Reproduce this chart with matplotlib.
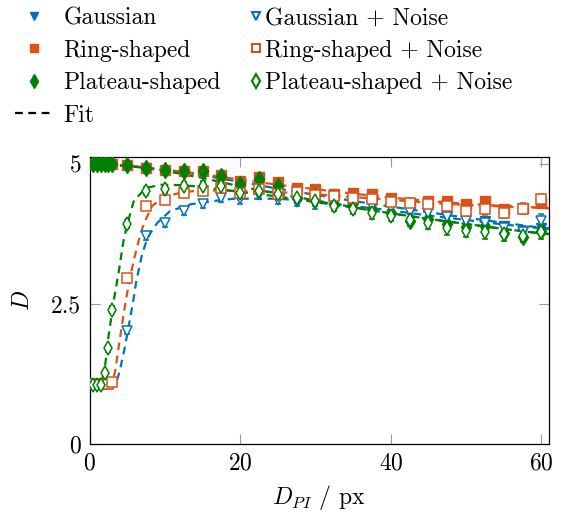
import numpy as np
import matplotlib
matplotlib.use('Agg')
import matplotlib.pyplot as plt
from matplotlib.lines import Line2D

plt.rcParams['font.family'] = 'serif'
plt.rcParams['font.serif'] = ['cmr10']
plt.rcParams['mathtext.fontset'] = 'cm'
plt.rcParams['axes.formatter.use_mathtext'] = True
plt.rcParams['font.size'] = 17

c_blue = '#0072BD'
c_orange = '#D95319'
c_green = '#008000'

# pupil diameter samples (px)
x = [0.5, 1, 1.5, 2, 2.5, 3, 5, 7.5, 10, 12.5, 15, 17.5, 20, 22.5, 25, 27.5,
     30, 32.5, 35, 37.5, 40, 42.5, 45, 47.5, 50, 52.5, 55, 57.5, 60]

gauss = [5, 5, 5, 5, 5, 5, 4.97, 4.92, 4.88, 4.85, 4.80, 4.72, 4.62, 4.62, 4.55,
         4.45, 4.42, 4.37, 4.34, 4.28, 4.25, 4.17, 4.16, 4.07, 4.01, 3.98, 3.89,
         3.80, 3.85]
ring = [5, 5, 5, 5, 5, 5, 4.98, 4.93, 4.89, 4.875, 4.875, 4.80, 4.70, 4.76, 4.67,
        4.57, 4.55, 4.46, 4.49, 4.47, 4.40, 4.31, 4.34, 4.34, 4.28, 4.34, 4.19,
        4.22, 4.31]
plateau = [5, 5, 5, 5, 5, 5, 4.98, 4.93, 4.89, 4.875, 4.875, 4.79, 4.64, 4.73,
           4.61, 4.40, 4.43, 4.28, 4.31, 4.19, 4.13, 3.98, 4.01, 3.92, 3.87, 3.89,
           3.77, 3.69, 3.80]

gauss_noise = [1.07, 1.07, 1.07, 1.07, 1.07, 1.08, 2.02, 3.71, 3.95, 4.16, 4.28,
               4.40, 4.37, 4.45, 4.36, 4.33, 4.28, 4.33, 4.30, 4.25, 4.22, 4.15,
               4.12, 4.05, 3.98, 3.95, 3.85, 3.78, 3.98]
ring_noise = [1.07, 1.07, 1.07, 1.07, 1.07, 1.10, 2.97, 4.25, 4.36, 4.49, 4.52,
              4.58, 4.49, 4.55, 4.46, 4.50, 4.45, 4.42, 4.40, 4.38, 4.33, 4.30,
              4.28, 4.25, 4.16, 4.19, 4.13, 4.20, 4.37]
plateau_noise = [1.05, 1.05, 1.05, 1.27, 1.71, 2.40, 3.93, 4.52, 4.55, 4.61,
                 4.61, 4.61, 4.49, 4.52, 4.46, 4.40, 4.34, 4.25, 4.20, 4.12, 4.08,
                 4.00, 3.95, 3.85, 3.80, 3.78, 3.75, 3.72, 3.78]

gauss_noise_err = [0.03, 0.03, 0.03, 0.03, 0.03, 0.03, 0.06, 0.06, 0.07, 0.07,
                   0.07, 0.07, 0.08, 0.08, 0.08, 0.08, 0.08, 0.09, 0.09, 0.09,
                   0.09, 0.10, 0.10, 0.10, 0.10, 0.11, 0.11, 0.11, 0.12]
ring_noise_err = [0.03, 0.03, 0.03, 0.03, 0.03, 0.03, 0.07, 0.07, 0.07, 0.07,
                  0.07, 0.07, 0.08, 0.08, 0.08, 0.08, 0.08, 0.08, 0.08, 0.09,
                  0.09, 0.09, 0.09, 0.09, 0.10, 0.10, 0.10, 0.10, 0.10]
plateau_noise_err = [0.03, 0.03, 0.03, 0.05, 0.06, 0.06, 0.07, 0.07, 0.07, 0.07,
                     0.08, 0.08, 0.08, 0.08, 0.08, 0.09, 0.09, 0.09, 0.10, 0.10,
                     0.10, 0.10, 0.11, 0.11, 0.11, 0.12, 0.12, 0.12, 0.12]

# fitted curves
fit_x = [0.5, 5, 10, 15, 20, 25, 30, 35, 40, 45, 50, 55, 60, 61]
gauss_fit = [5.0, 4.97, 4.9, 4.8, 4.68, 4.56, 4.45, 4.34, 4.24, 4.14, 4.04, 3.95, 3.86, 3.85]
ring_fit = [5.0, 4.97, 4.9, 4.82, 4.72, 4.63, 4.55, 4.47, 4.40, 4.34, 4.29, 4.25, 4.22, 4.21]
plateau_fit = [5.0, 4.97, 4.88, 4.75, 4.6, 4.47, 4.35, 4.23, 4.12, 4.02, 3.93, 3.84, 3.76, 3.75]

gauss_noise_fit_x = [0.5, 3.5, 4, 4.65, 5.2, 5.8, 6.2, 7, 7.5, 8, 9, 10.7, 13.4,
                     16.5, 19.1, 25, 30, 35, 40, 45, 50, 55, 60, 61]
gauss_noise_fit = [1.05, 1.07, 1.3, 1.7, 2.1, 2.55, 2.9, 3.4, 3.6, 3.75, 3.95,
                   4.16, 4.28, 4.34, 4.38, 4.38, 4.33, 4.25, 4.17, 4.08, 4.0,
                   3.92, 3.85, 3.84]
ring_noise_fit_x = [0.5, 3, 3.4, 4, 4.5, 5, 5.5, 6, 6.5, 7, 7.5, 8.3, 10, 12.5,
                    15, 20, 25, 30, 35, 40, 45, 50, 55, 60, 61]
ring_noise_fit = [1.05, 1.07, 1.3, 1.85, 2.3, 2.7, 3.05, 3.35, 3.62, 3.85, 4.02,
                  4.25, 4.42, 4.5, 4.53, 4.52, 4.5, 4.46, 4.41, 4.36, 4.31, 4.27,
                  4.24, 4.22, 4.21]
plateau_noise_fit_x = [0.5, 1.5, 1.65, 2.1, 2.5, 3.2, 3.9, 4.5, 5, 5.9, 7.5, 9.4,
                       12.5, 15, 20, 25, 30, 35, 40, 45, 50, 55, 60, 61]
plateau_noise_fit = [1.05, 1.07, 1.12, 1.43, 1.9, 2.55, 3.09, 3.62, 3.92, 4.35,
                     4.57, 4.63, 4.62, 4.59, 4.5, 4.42, 4.32, 4.22, 4.12, 4.02,
                     3.93, 3.84, 3.76, 3.75]

fig = plt.figure(figsize=(5.79, 5.14), dpi=100)
ax = fig.add_axes([0.1546, 0.1362, 0.7936, 0.5578])

dash = (0, (3.5, 2.5))
fit_kw = dict(ls=dash, lw=1.6, zorder=2)
ax.plot(fit_x, gauss_fit, color=c_blue, **fit_kw)
ax.plot(gauss_noise_fit_x, gauss_noise_fit, color=c_blue, **fit_kw)
ax.plot(fit_x, ring_fit, color=c_orange, **fit_kw)
ax.plot(ring_noise_fit_x, ring_noise_fit, color=c_orange, **fit_kw)
ax.plot(fit_x, plateau_fit, color=c_green, **fit_kw)
ax.plot(plateau_noise_fit_x, plateau_noise_fit, color=c_green, **fit_kw)

err_kw = dict(mfc='white', mew=1.1, capsize=2.5, elinewidth=1, zorder=3)
ax.plot(x, gauss, 'v', color=c_blue, ms=7, ls='none', zorder=3)
ax.errorbar(x, gauss_noise, yerr=gauss_noise_err, fmt='v', color=c_blue, ms=6.5,
            **err_kw)
ax.plot(x, ring, 's', color=c_orange, ms=7.5, ls='none', zorder=3)
ax.errorbar(x, ring_noise, yerr=ring_noise_err, fmt='s', color=c_orange, ms=6.5,
            **err_kw)
ax.plot(x, plateau, 'd', color=c_green, ms=8.5, ls='none', zorder=3)
ax.errorbar(x, plateau_noise, yerr=plateau_noise_err, fmt='d', color=c_green,
            ms=7.5, **err_kw)

ax.set_xlim(0, 61)
ax.set_ylim(0, 5.12)
ax.set_xticks([0, 20, 40, 60])
ax.set_yticks([0, 2.5, 5])
ax.set_yticklabels(['0', '2.5', '5'])
ax.tick_params(direction='in', length=7, width=0.8, color='#999999',
               top=True, right=True, pad=6)
for s in ax.spines.values():
    s.set_linewidth(0.9)
ax.set_xlabel(r'$D_{PI}$ / px', labelpad=6)
ax.set_ylabel(r'$D$', labelpad=12)

h1 = [Line2D([], [], marker='v', color=c_blue, ls='none', ms=6),
      Line2D([], [], marker='s', color=c_orange, ls='none', ms=5.5),
      Line2D([], [], marker='d', color=c_green, ls='none', ms=7)]
h1.append(Line2D([], [], color='black', ls=dash, lw=1.6))
l1 = ['Gaussian', 'Ring-shaped', 'Plateau-shaped', 'Fit']
h2 = [Line2D([], [], marker='v', color=c_blue, mfc='white', mew=1.5, ls='none', ms=6),
      Line2D([], [], marker='s', color=c_orange, mfc='white', mew=1.5, ls='none', ms=5.5),
      Line2D([], [], marker='d', color=c_green, mfc='white', mew=1.5, ls='none', ms=7)]
l2 = ['Gaussian + Noise', 'Ring-shaped + Noise', 'Plateau-shaped + Noise']

fig.legend(h1, l1, loc='upper left', bbox_to_anchor=(15 / 579, 1 - 7 / 514),
           frameon=False, borderpad=0, borderaxespad=0, handlelength=1.6,
           handletextpad=0.45, labelspacing=0.44)
fig.legend(h2, l2, loc='upper left', bbox_to_anchor=(250 / 579, 1 - 7 / 514),
           frameon=False, borderpad=0, borderaxespad=0, handlelength=0.5,
           handletextpad=0.15, labelspacing=0.44)

fig.savefig('out.png', dpi=100)
